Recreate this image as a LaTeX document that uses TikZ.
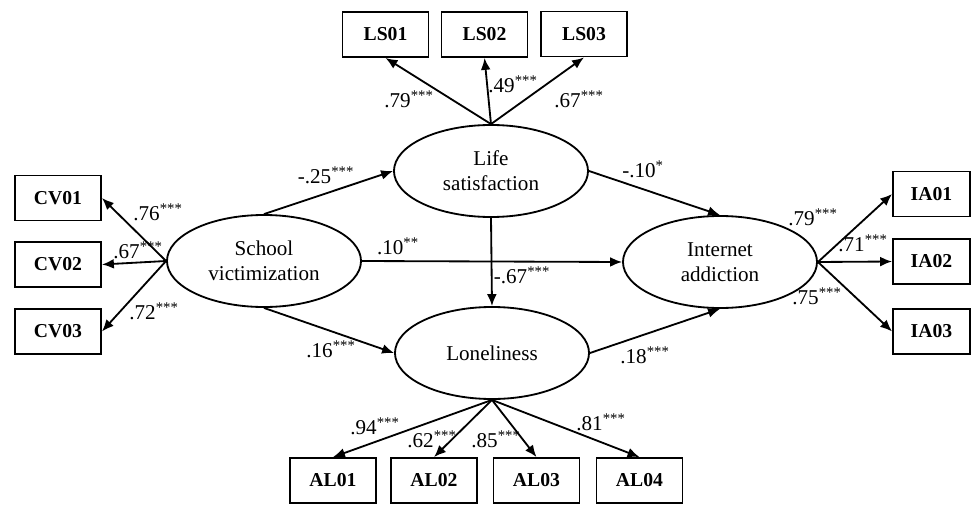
\documentclass[tikz,border=0pt]{standalone}
\usepackage{fontspec}
\setmainfont{Liberation Serif}
\usetikzlibrary{shapes.geometric,arrows.meta}

\begin{document}
\begin{tikzpicture}[x=0.025cm,y=-0.025cm,line width=1.3pt,
    font=\fontsize{15}{17.8}\selectfont,
    item/.style={draw,rectangle,minimum width=2.15cm,minimum height=1.125cm,inner sep=0pt,
      font=\fontsize{14}{17}\selectfont\bfseries},
    factor/.style={draw,ellipse,minimum width=4.85cm,minimum height=2.3cm,inner sep=0pt,align=center},
    path/.style={-{Latex[length=8.5pt,width=7pt]}},
    coef/.style={inner sep=1pt}]
    \useasboundingbox (0,0) rectangle (972,505);
    % latent variables
    \node[factor] (ls) at (491,171) {Life\\satisfaction};
    \node[factor] (sv) at (264,261) {School\\victimization};
    \node[factor] (ia) at (720,262) {Internet\\addiction};
    \node[factor] (lon) at (492,353) {Loneliness};
    % indicators
    \node[item] (ls1) at (385.5,34.5) {LS01};
    \node[item] (ls2) at (484.5,34.5) {LS02};
    \node[item] (ls3) at (584,34) {LS03};
    \node[item] (cv1) at (58,198) {CV01};
    \node[item] (cv2) at (58,264.5) {CV02};
    \node[item] (cv3) at (58,331.5) {CV03};
    \node[item,minimum width=1.925cm] (ia1) at (931.5,194) {IA01};
    \node[item,minimum width=1.925cm] (ia2) at (931.5,261.5) {IA02};
    \node[item,minimum width=1.925cm] (ia3) at (931.5,331.5) {IA03};
    \node[item] (al1) at (333,480.5) {AL01};
    \node[item] (al2) at (434,480.5) {AL02};
    \node[item] (al3) at (536.5,480.5) {AL03};
    \node[item] (al4) at (639.5,480.5) {AL04};
    % loadings
    \draw[path] (ls.north) -- (ls1.south);
    \draw[path] (ls.north) -- (ls2.south);
    \draw[path] (ls.north) -- (ls3.south);
    \draw[path] (sv.west) -- (cv1.east);
    \draw[path] (sv.west) -- (cv2.east);
    \draw[path] (sv.west) -- (cv3.east);
    \draw[path] (ia.east) -- (ia1.west);
    \draw[path] (ia.east) -- (ia2.west);
    \draw[path] (ia.east) -- (ia3.west);
    \draw[path] (lon.south) -- (al1.north);
    \draw[path] (lon.south) -- (al2.north);
    \draw[path] (lon.south) -- (al3.north);
    \draw[path] (lon.south) -- (al4.north);
    % structural paths
    \draw[path] (sv.north) -- (ls.west);
    \draw[path] (sv.east) -- (ia.west);
    \draw[path] (sv.south) -- (lon.west);
    \draw[path] (ls.east) -- (ia.north);
    \draw[path] (ls.south) -- (lon.north);
    \draw[path] (lon.east) -- (ia.south);
    % coefficients
    \node[coef] (c1) at (409,99) {.79\textsuperscript{***}};
    \node[coef] (c2) at (513,84) {.49\textsuperscript{***}};
    \node[coef] (c3) at (579,99) {.67\textsuperscript{***}};
    \node[coef] (c4) at (158,212) {.76\textsuperscript{***}};
    \node[coef] (c5) at (138,250) {.67\textsuperscript{***}};
    \node[coef] (c6) at (154,311) {.72\textsuperscript{***}};
    \node[coef] (c7) at (813,217) {.79\textsuperscript{***}};
    \node[coef] (c8) at (863,243) {.71\textsuperscript{***}};
    \node[coef] (c9) at (817,296) {.75\textsuperscript{***}};
    \node[coef] (c10) at (375,426) {.94\textsuperscript{***}};
    \node[coef] (c11) at (432,439) {.62\textsuperscript{***}};
    \node[coef] (c12) at (496,439) {.85\textsuperscript{***}};
    \node[coef] (c13) at (601,422) {.81\textsuperscript{***}};
    \node[coef] (c14) at (326,175) {-.25\textsuperscript{***}};
    \node[coef] (c15) at (398,246) {.10\textsuperscript{**}};
    \node[coef] (c16) at (331,349) {.16\textsuperscript{***}};
    \node[coef] (c17) at (643,169) {-.10\textsuperscript{*}};
    \node[coef] (c18) at (522,275) {-.67\textsuperscript{***}};
    \node[coef] (c19) at (645,355) {.18\textsuperscript{***}};
\end{tikzpicture}
\end{document}
